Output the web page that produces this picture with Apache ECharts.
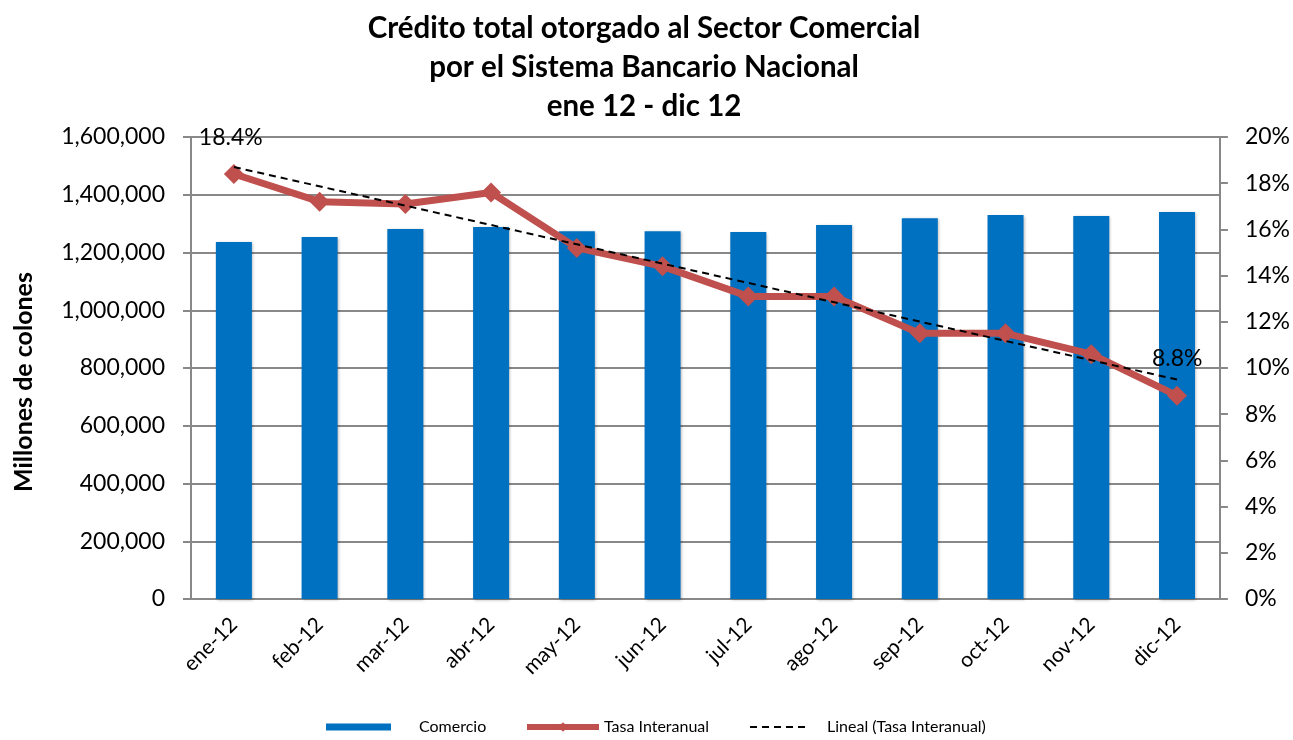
<!DOCTYPE html>
<html>
<head>
<meta charset="utf-8">
<script src="https://cdn.jsdelivr.net/npm/echarts@6/dist/echarts.min.js"></script>
<style>
  html, body { margin: 0; padding: 0; background: #fff; }
  #chart { width: 1293px; height: 740px; }
</style>
</head>
<body>
<div id="chart"></div>
<script>
const meses = ['ene-12', 'feb-12', 'mar-12', 'abr-12', 'may-12', 'jun-12', 'jul-12', 'ago-12', 'sep-12', 'oct-12', 'nov-12', 'dic-12'];
const comercio = [1236000, 1254000, 1281000, 1288000, 1274000, 1274000, 1271000, 1295000, 1319000, 1330000, 1326000, 1340000];
const tasa = [18.4, 17.2, 17.1, 17.6, 15.2, 14.4, 13.1, 13.1, 11.5, 11.5, 10.6, 8.8];
// tendencia lineal (extremos)
const lineal = [18.7, null, null, null, null, null, null, null, null, null, null, 9.5];

const font = 'Lato, "Open Sans", sans-serif';
const legendText = { fontSize: 16, color: '#000', fontFamily: font };

const option = {
  animation: false,
  textStyle: { fontFamily: font },
  title: {
    text: 'Crédito total otorgado al Sector Comercial\npor el Sistema Bancario Nacional\nene 12 - dic 12',
    left: 639,
    textAlign: 'center',
    top: 4,
    textStyle: { fontFamily: font, fontSize: 29.5, fontWeight: 'bold', color: '#000', lineHeight: 39 },
  },
  graphic: [{
    type: 'text',
    x: 24,
    y: 382,
    rotation: Math.PI / 2,
    style: {
      text: 'Millones de colones',
      font: 'bold 25px ' + font,
      fill: '#000',
      align: 'center',
      verticalAlign: 'middle',
    },
  }],
  grid: { left: 191, right: 73, top: 137, bottom: 141 },
  legend: [
    {
      top: 714, left: 321, itemWidth: 65, itemHeight: 7,
      textStyle: Object.assign({ padding: [0, 0, 0, 23] }, legendText),
      data: [{ name: 'Comercio', icon: 'rect' }],
    },
    {
      top: 714, left: 519, itemWidth: 72, itemHeight: 12,
      textStyle: legendText,
      data: [{ name: 'Tasa Interanual', lineStyle: { width: 6 } }],
    },
    {
      top: 714, left: 744, itemWidth: 58, itemHeight: 8,
      textStyle: Object.assign({ padding: [0, 0, 0, 14] }, legendText),
      data: [{ name: 'Lineal (Tasa Interanual)', itemStyle: { color: 'transparent', opacity: 0 } }],
    },
  ],
  xAxis: {
    type: 'category',
    data: meses,
    axisTick: { show: false },
    axisLine: { lineStyle: { color: '#888', width: 2 } },
    axisLabel: { rotate: 45, fontSize: 21, color: '#000', margin: 22 },
  },
  yAxis: [
    {
      type: 'value',
      min: 0,
      max: 1600000,
      interval: 200000,
      axisLine: { show: true, lineStyle: { color: '#888', width: 2 } },
      axisTick: { show: true, length: 8, lineStyle: { color: '#888', width: 2 } },
      axisLabel: {
        fontSize: 23, color: '#000', margin: 26,
        formatter: v => v.toLocaleString('en-US'),
      },
      splitLine: { lineStyle: { color: '#888', width: 2 } },
    },
    {
      type: 'value',
      min: 0,
      max: 20,
      interval: 2,
      axisLine: { show: true, lineStyle: { color: '#888', width: 2 } },
      axisTick: { show: true, length: 8, lineStyle: { color: '#888', width: 2 } },
      axisLabel: { fontSize: 23, color: '#000', margin: 25, formatter: '{value}%' },
      splitLine: { show: false },
    },
  ],
  series: [
    {
      name: 'Comercio',
      type: 'bar',
      data: comercio,
      barWidth: '42%',
      itemStyle: {
        color: '#0070c0',
        shadowColor: 'rgba(0,0,0,0.3)',
        shadowBlur: 3,
        shadowOffsetX: 1,
        shadowOffsetY: 1,
      },
    },
    {
      name: 'Tasa Interanual',
      type: 'line',
      yAxisIndex: 1,
      data: tasa.map((v, i) => ({
        value: v,
        label: {
          show: i === 0 || i === tasa.length - 1,
          position: i === 0 ? [-25, -38] : [-15, -39],
          formatter: p => p.value.toFixed(1) + '%',
          fontSize: 23,
          color: '#000',
        },
      })),
      symbol: 'diamond',
      symbolSize: 20,
      lineStyle: { color: '#c0504d', width: 7 },
      itemStyle: { color: '#c0504d' },
      z: 3,
    },
    {
      name: 'Lineal (Tasa Interanual)',
      type: 'line',
      yAxisIndex: 1,
      data: lineal,
      connectNulls: true,
      showSymbol: false,
      symbol: 'none',
      lineStyle: { color: '#000', width: 2, type: [7, 5] },
      itemStyle: { color: '#000' },
      z: 4,
    },
  ],
};

const chart = echarts.init(document.getElementById('chart'));
chart.setOption(option);
</script>
</body>
</html>
